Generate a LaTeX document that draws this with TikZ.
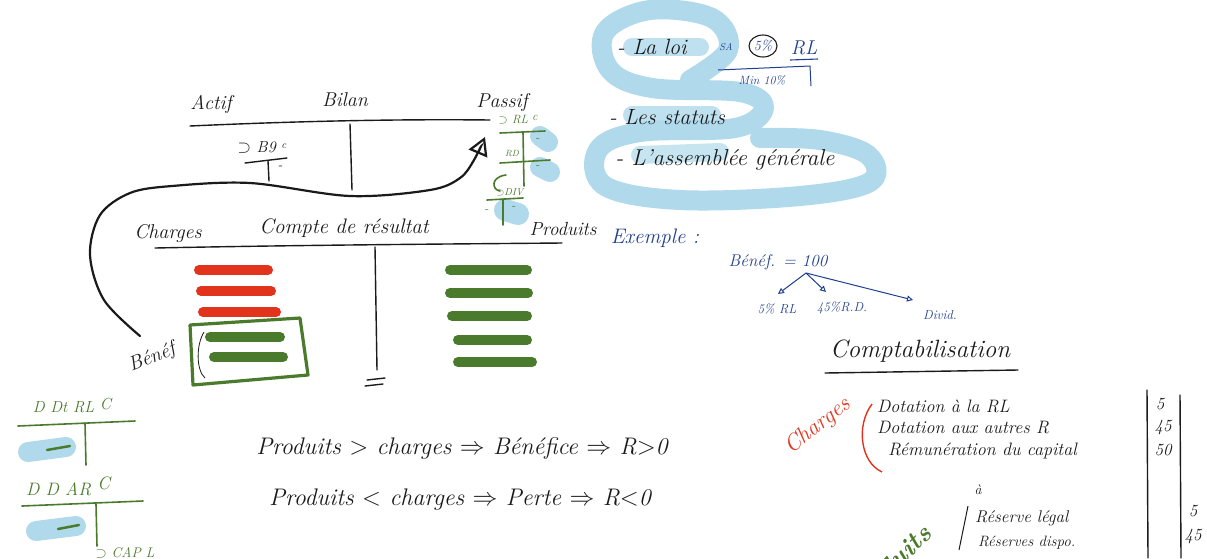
\documentclass[tikz,border=0pt]{standalone}
\usepackage{amssymb}
\usetikzlibrary{arrows.meta}
\definecolor{ink}{HTML}{1A1A1A}
\definecolor{navy}{HTML}{1F3F8F}
\definecolor{gr}{HTML}{4A7A2C}
\definecolor{rd}{HTML}{E2341D}
\definecolor{lb}{HTML}{B0DAEC}
\newcommand\fsz[1]{\fontsize{#1}{#1}\selectfont}
\begin{document}
\begin{tikzpicture}[x=1pt,y=-1pt,
  txt/.style={font=\itshape\fsz{20}, inner sep=0pt, text=ink},
  bl/.style={txt, text=navy},
  gt/.style={txt, text=gr},
  pen/.style={ink, line width=1.4pt, line cap=round},
  gpen/.style={gr, line width=1.6pt, line cap=round},
  rbar/.style={rd, line width=10pt, line cap=round},
  gbar/.style={gr, line width=10pt, line cap=round},
  hl/.style={lb, line width=18pt, line cap=round},
]
\useasboundingbox (0,0) rectangle (1207,558);
\fill[white] (0,0) rectangle (1207,558);

% ---------- blue scribble (top right) ----------
\draw[lb, line width=20pt, line cap=round, line join=round]
  plot[smooth, tension=0.6] coordinates {(690,80) (728,50) (712,18) (650,10) (605,32) (610,70) (652,88) (740,92) (764,108) (735,128) (640,132) (598,150) (605,186) (680,200) (800,196) (870,182) (868,155) (820,140) (760,138)};
\draw[hl, opacity=0.8] (632,47) -- (700,47);
\draw[hl, opacity=0.8] (632,115) -- (712,115);
\draw[hl, opacity=0.7] (640,155) -- (720,152);

% ---------- Bilan ----------
\node[txt] (actif) at (211,104) {Actif};
\node[txt] (bilan) at (345,100) {Bilan};
\node[txt] (passif) at (502,102) {Passif};
\draw[pen] (190,126) .. controls (300,121) and (400,119) .. (490,120);
\draw[pen] (350,124) -- (352,190);
\node[txt, font=\itshape\fsz{16}] (bq) at (262,147) {$\supset$ B9 \raisebox{4pt}{\fsz{11}c}};
\draw[pen] (245,163) -- (287,158);
\draw[pen] (268,161) -- (269,181);
\node[txt, font=\itshape\fsz{14}] (bqm) at (280,168) {-};

% passif green T-accounts
\draw[lb, line width=20pt, line cap=round] (540,136) -- (548,142);
\draw[lb, line width=20pt, line cap=round] (540,167) -- (550,172);
\draw[lb, line width=22pt, line cap=round] (505,210) -- (518,214);
\node[gt, font=\itshape\fsz{12}] (rlc) at (518,120) {$\supset$ RL \raisebox{3pt}{c}};
\draw[gpen] (500,133) -- (545,131);
\draw[gpen] (523,132) -- (524,186);
\node[gt, font=\fsz{12}] at (538,140) {-};
\node[gt, font=\itshape\fsz{9}] (rd) at (512,154) {RD};
\draw[gpen] (500,163) -- (550,160);
\node[gt, font=\fsz{12}] at (538,167) {-};
\draw[gpen] (506,175) .. controls (490,177) and (492,190) .. (500,191);
\node[gt, font=\itshape\fsz{10}] (div) at (510,192) {$\supset$DIV};
\draw[gpen] (487,200) -- (523,198);
\draw[gpen] (503,199) -- (503,225);
\node[gt, font=\fsz{12}] at (487,211) {-};
\node[gt, font=\fsz{12}] at (514,208) {-};

% ---------- Compte de resultat ----------
\node[txt] (charges) at (168,233) {Charges};
\node[txt, font=\itshape\fsz{21}] (cdr) at (344,228) {Compte de r\'esultat};
\node[txt, font=\itshape\fsz{19}] (produits) at (563,229) {Produits};
\draw[pen] (155,248) .. controls (300,245) and (450,244) .. (562,243);
\draw[pen] (375,247) -- (377,370);
\draw[pen] (367,380) -- (385,378);
\draw[pen] (365,386) -- (383,384);

\draw[rbar] (199,270) -- (268,270);
\draw[rbar] (201,291) -- (271,291);
\draw[rbar] (203,312) -- (276,312);
\draw[gbar] (210,337) -- (280,337);
\draw[gbar] (214,357) -- (283,357);
\draw[gr, line width=3.2pt, line join=round] (190,325) -- (300,318) -- (308,375) -- (193,385) -- cycle;
\draw[ink, line width=0.8pt] (204,332) .. controls (196,345) and (196,370) .. (205,378);

\draw[gbar] (450,270) -- (527,270);
\draw[gbar] (450,293) -- (528,293);
\draw[gbar] (452,316) -- (527,316);
\draw[gbar] (458,340) -- (527,340);
\draw[gbar] (458,362) -- (532,362);

\node[txt, rotate=22] (benef) at (152,358) {B\'en\'ef};

% ---------- big arrow ----------
\coordinate (tip) at (485,137);
\draw[ink, line width=2.2pt, line cap=round, -{Triangle[open, length=18pt, width=20pt, line width=2.2pt]}]
  plot[smooth, tension=0.55] coordinates {(140,336) (104,300) (90,255) (100,215) (130,193) (172,186) (250,183) (350,196) (430,190) (460,178) (474,160) (tip)};

% ---------- top right list ----------
\node[txt, font=\itshape\fsz{22}] (loi) at (652,47) {- La loi};
\node[bl, font=\itshape\fsz{10}] (sa) at (726,47) {SA};
\node[bl, font=\itshape\fsz{14}] (pct) at (763,46) {5\%};
\draw[ink, line width=1.1pt] (pct) circle[x radius=14pt, y radius=11pt];
\node[bl, font=\itshape\fsz{20}] (rl) at (804,48) {RL};
\draw[navy, line width=1.1pt] (790,60) -- (818,59);
\draw[navy, line width=1pt] (718,70) -- (810,66) -- (811,86);
\node[bl, font=\itshape\fsz{12}] (min) at (762,80) {Min 10\%};
\node[txt, font=\itshape\fsz{22}] (stat) at (667,117) {- Les statuts};
\node[txt, font=\itshape\fsz{23}] (ag) at (725,160) {- L'assembl\'ee g\'en\'erale};

% ---------- example ----------
\node[bl, font=\itshape\fsz{21}] (ex) at (655,238) {Exemple :};
\node[bl, font=\itshape\fsz{17}] (bn) at (778,262) {B\'en\'ef. = 100};
\node[bl, font=\itshape\fsz{13}] (e1) at (777,309) {5\% RL};
\node[bl, font=\itshape\fsz{13}] (e2) at (842,308) {45\%R.D.};
\node[bl, font=\itshape\fsz{13}] (e3) at (940,315) {Divid.};
\coordinate (src) at (806,273);
\draw[navy, line width=1pt, -{Triangle[open, length=6pt, width=6pt]}] (src) -- (778,294);
\draw[navy, line width=1pt, -{Triangle[open, length=6pt, width=6pt]}] (src) -- (826,292);
\draw[navy, line width=1pt, -{Triangle[open, length=6pt, width=6pt]}] (src) -- (913,300);

% ---------- comptabilisation ----------
\node[txt, font=\itshape\fsz{25}] (compta) at (920,351) {Comptabilisation};
\draw[pen] (825,373) -- (1018,370);
\node[txt, text=rd, font=\itshape\fsz{23}, rotate=38] (chg) at (818,426) {Charges};
\draw[rd, line width=1.4pt] (872,404) .. controls (856,425) and (860,462) .. (882,472);
\node[txt, font=\itshape\fsz{18}, anchor=west] (d1) at (877,406) {Dotation \`a la RL};
\node[txt, font=\itshape\fsz{18}, anchor=west] (d2) at (877,428) {Dotation aux autres R};
\node[txt, font=\itshape\fsz{18}, anchor=west] (d3) at (888,451) {R\'emun\'eration du capital};
\draw[pen] (1147,390) -- (1148,558);
\draw[pen] (1180,395) -- (1181,558);
\node[txt, font=\itshape\fsz{17}] (n1) at (1160,404) {5};
\node[txt, font=\itshape\fsz{17}] (n2) at (1163,427) {45};
\node[txt, font=\itshape\fsz{17}] (n3) at (1163,450) {50};
\node[txt, font=\itshape\fsz{14}] (a) at (978,490) {\`a};
\draw[ink, line width=1pt] (968,506) -- (959,550);
\node[txt, font=\itshape\fsz{17}, anchor=west] (r1) at (975,518) {R\'eserve l\'egal};
\node[txt, font=\itshape\fsz{15}, anchor=west] (r2) at (978,543) {R\'eserves dispo.};
\node[txt, font=\itshape\fsz{17}] (m1) at (1193,511) {5};
\node[txt, font=\itshape\fsz{17}] (m2) at (1193,536) {45};
\node[gt, font=\itshape\bfseries\fsz{26}, rotate=45] (prd) at (888,568) {Produits};

% ---------- bottom left ----------
\draw[lb, line width=20pt, line cap=round] (28,452) -- (66,447);
\draw[lb, line width=20pt, line cap=round] (36,531) -- (76,526);
\node[gt, font=\itshape\fsz{16}] (dt) at (72,406) {D Dt RL \raisebox{3pt}{C}};
\draw[gpen] (18,426) -- (135,421);
\draw[gpen] (85,423) -- (86,465);
\draw[gr, line width=2.5pt, line cap=round] (47,450) -- (70,446);
\node[gt, font=\itshape\fsz{18}] (dar) at (68,486) {D D AR \raisebox{6pt}{C}};
\draw[gpen] (22,506) -- (143,501);
\draw[gpen] (96,504) -- (97,546);
\draw[gr, line width=2.5pt, line cap=round] (58,529) -- (79,525);
\node[gt, font=\itshape\fsz{14}] (cap) at (125,553) {$\supset$ CAP L};

% ---------- bottom centre ----------
\node[txt, font=\itshape\fsz{24}] (l1) at (462,448) {Produits $>$ charges $\Rightarrow$ B\'en\'efice $\Rightarrow$ R$>$0};
\node[txt, font=\itshape\fsz{24}] (l2) at (460,500) {Produits $<$ charges $\Rightarrow$ Perte $\Rightarrow$ R$<$0};
\end{tikzpicture}
\end{document}
